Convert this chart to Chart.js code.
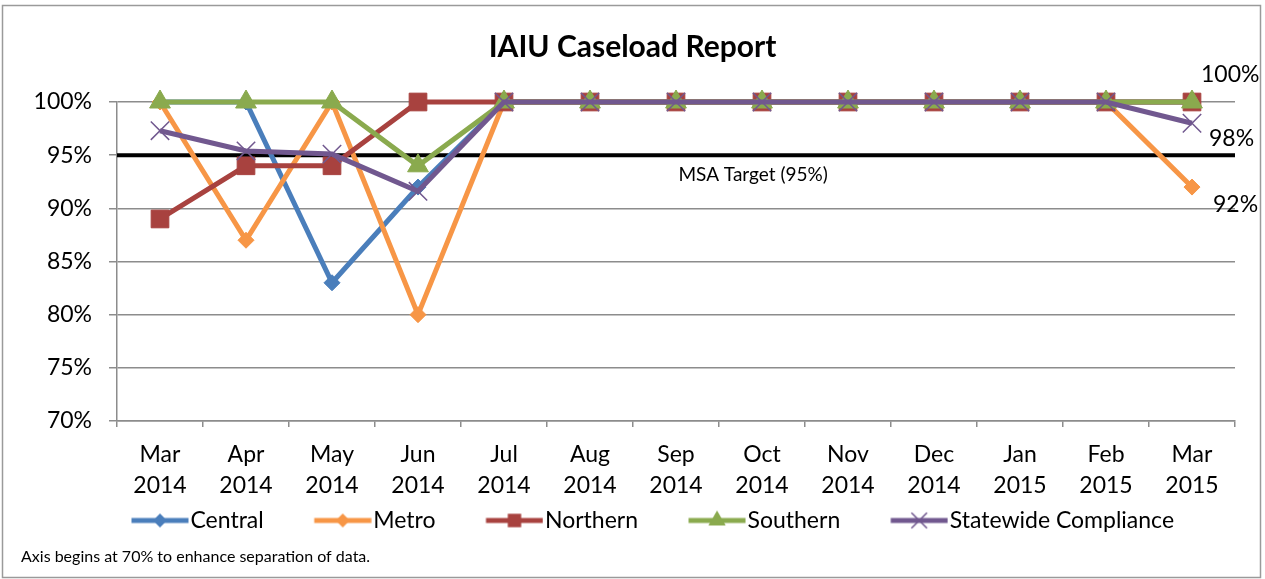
<!DOCTYPE html>
<html><head><meta charset="utf-8">
<script src="https://cdn.jsdelivr.net/npm/chart.js@4.4.1/dist/chart.umd.min.js"></script>
<style>html,body{margin:0;padding:0;background:#fff;}canvas{display:block;}</style>
</head><body>
<canvas id="c" width="1265" height="579"></canvas>
<script>
// ---- data ----
const months = ['Mar','Apr','May','Jun','Jul','Aug','Sep','Oct','Nov','Dec','Jan','Feb','Mar'];
const years  = ['2014','2014','2014','2014','2014','2014','2014','2014','2014','2014','2015','2015','2015'];
const seriesNames = ['Central','Metro','Northern','Southern','Statewide Compliance'];
const central   = [100,100,83,92,100,100,100,100,100,100,100,100,100];
const metro     = [100,87,100,80,100,100,100,100,100,100,100,100,92];
const northern  = [89,94,94,100,100,100,100,100,100,100,100,100,100];
const southern  = [100,100,100,94,100,100,100,100,100,100,100,100,100];
const statewide = [97.3,95.4,95.1,91.6,100,100,100,100,100,100,100,100,98];
const yTicks = [70,75,80,85,90,95,100];
const targetValue = 95;
const targetLabel = 'MSA Target (95%)';
const titleText = 'IAIU Caseload Report';
const footnote = 'Axis begins at 70% to enhance separation of data.';
const endLabels = [{series:3, text:'100%'},{series:4, text:'98%'},{series:1, text:'92%'}];

// ---- styling ----
const FONT = "Lato, 'Open Sans', sans-serif";
Chart.defaults.font.family = FONT;
Chart.defaults.color = '#000';
const colors = ['#4A7EBB','#F79646','#A8423F','#8AAA4E','#71588F'];
const pStyles = ['rectRot','rectRot','rect','triangle','crossRot'];
const pRadii = [8,8,12.5,12,13];
const allSeries = [central, metro, northern, southern, statewide];
const labels = months.map((m,i)=>[m, years[i]]);

function drawMarker(ctx, style, x, y, r){
  ctx.beginPath();
  if(style==='rectRot'){ctx.moveTo(x,y-r);ctx.lineTo(x+r,y);ctx.lineTo(x,y+r);ctx.lineTo(x-r,y);ctx.closePath();ctx.fill();}
  else if(style==='rect'){const s=r*Math.SQRT1_2;ctx.rect(x-s,y-s,2*s,2*s);ctx.fill();}
  else if(style==='triangle'){ctx.moveTo(x,y-r);ctx.lineTo(x+r*0.866,y+r/2);ctx.lineTo(x-r*0.866,y+r/2);ctx.closePath();ctx.fill();}
  else if(style==='crossRot'){const o=r*Math.SQRT1_2;ctx.lineWidth=1.5;ctx.moveTo(x-o,y-o);ctx.lineTo(x+o,y+o);ctx.moveTo(x+o,y-o);ctx.lineTo(x-o,y+o);ctx.stroke();}
}
const PSW = 88, LEG_FONT = 23, ICON_W = PSW + LEG_FONT/2 + 9, ICON_H = 26;
const legendIcons = colors.map((c,i)=>{
  const cv = document.createElement('canvas'); cv.width = ICON_W; cv.height = ICON_H;
  const g = cv.getContext('2d');
  g.strokeStyle = c; g.fillStyle = c; g.lineWidth = 5;
  g.beginPath(); g.moveTo(ICON_W-58, ICON_H/2); g.lineTo(ICON_W-1, ICON_H/2); g.stroke();
  drawMarker(g, pStyles[i], ICON_W-29.5, ICON_H/2, [7,7,9.5,10,11][i]);
  return cv;
});

const datasets = allSeries.map((d,i)=>({
  label: seriesNames[i], data: d,
  borderColor: colors[i], backgroundColor: colors[i],
  borderWidth: 5, tension: 0, fill: false, clip: false,
  pointStyle: pStyles[i], pointRadius: pRadii[i], pointHoverRadius: pRadii[i],
  pointBackgroundColor: colors[i], pointBorderColor: colors[i],
  pointBorderWidth: i===4 ? 1.5 : 1,
  order: 5 - i
}));

const frame = {
  id:'frame',
  beforeDraw(chart){
    const c = chart.ctx; c.save();
    c.fillStyle='#fff'; c.fillRect(0,0,chart.width,chart.height);
    c.strokeStyle='#9a9a9a'; c.lineWidth=1.5; c.strokeRect(2.5,5.5,1258,572);
    c.restore();
  },
  afterDraw(chart){
    const c = chart.ctx; c.save();
    c.font = "16px " + FONT; c.fillStyle='#000'; c.textAlign='left'; c.textBaseline='middle';
    c.fillText(footnote, 21, 557);
    c.restore();
  }
};
const target = {
  id:'target',
  beforeDatasetsDraw(chart){
    const {ctx, chartArea:a, scales:{y}} = chart;
    const py = y.getPixelForValue(targetValue);
    ctx.save();
    ctx.strokeStyle='#000'; ctx.lineWidth=4;
    ctx.beginPath(); ctx.moveTo(a.left, py); ctx.lineTo(a.right, py); ctx.stroke();
    ctx.font = "19px " + FONT; ctx.fillStyle='#000'; ctx.textAlign='center'; ctx.textBaseline='middle';
    ctx.fillText(targetLabel, a.left + 0.569*(a.right-a.left), py + 20);
    ctx.restore();
  }
};
const endLabelOffsets = {3:[9,-27], 4:[17,15], 1:[21,18]};
const endLabel = {
  id:'endLabel',
  afterDatasetsDraw(chart){
    const ctx = chart.ctx; ctx.save();
    ctx.font = "23px " + FONT; ctx.fillStyle='#000'; ctx.textAlign='left'; ctx.textBaseline='middle';
    endLabels.forEach(l=>{
      const meta = chart.getDatasetMeta(l.series);
      const pt = meta.data[meta.data.length-1];
      const off = endLabelOffsets[l.series];
      ctx.fillText(l.text, pt.x + off[0], pt.y + off[1]);
    });
    ctx.restore();
  }
};

new Chart(document.getElementById('c'), {
  type:'line',
  data:{labels, datasets},
  options:{
    responsive:false, animation:false, devicePixelRatio:1,
    events:[],
    layout:{padding:{left:0,right:0,top:0,bottom:37}},
    scales:{
      x:{
        offset:true,
        grid:{display:true, drawOnChartArea:false, offset:true, tickLength:6, color:'#8c8c8c', lineWidth:1.5},
        border:{color:'#8c8c8c', width:1.5},
        ticks:{color:'#000', font:{size:23, lineHeight:1.35}, padding:12, maxRotation:0, autoSkip:false},
        afterFit(s){ s.height = 78; }
      },
      y:{
        min:70, max:100,
        afterBuildTicks(s){ s.ticks = yTicks.map(v=>({value:v})); },
        ticks:{color:'#000', font:{size:23}, padding:17, callback:v=>v+'%'},
        grid:{color:'#8c8c8c', lineWidth:1.5, tickLength:8},
        border:{color:'#8c8c8c', width:1.5},
        afterFit(s){ s.width = 117; }
      },
      y2:{
        position:'right', display:true, min:0, max:1,
        grid:{display:false}, border:{display:false}, ticks:{display:false},
        afterFit(s){ s.width = 30; }
      }
    },
    plugins:{
      title:{display:true, text:titleText, color:'#000', font:{size:30, weight:'bold', lineHeight:1.2}, padding:{top:29,bottom:37}},
      legend:{
        position:'bottom',
        labels:{
          usePointStyle:true, pointStyleWidth:PSW, padding:10, color:'#000', font:{size:LEG_FONT},
          generateLabels(chart){
            return chart.data.datasets.map((ds,i)=>({
              text: ds.label, pointStyle: legendIcons[i], datasetIndex: i,
              fillStyle: ds.borderColor, strokeStyle: ds.borderColor, lineWidth: 0,
              hidden: !chart.isDatasetVisible(i), fontColor:'#000'
            }));
          }
        }
      },
      tooltip:{enabled:false}
    }
  },
  plugins:[frame, target, endLabel]
});
</script>
</body></html>
